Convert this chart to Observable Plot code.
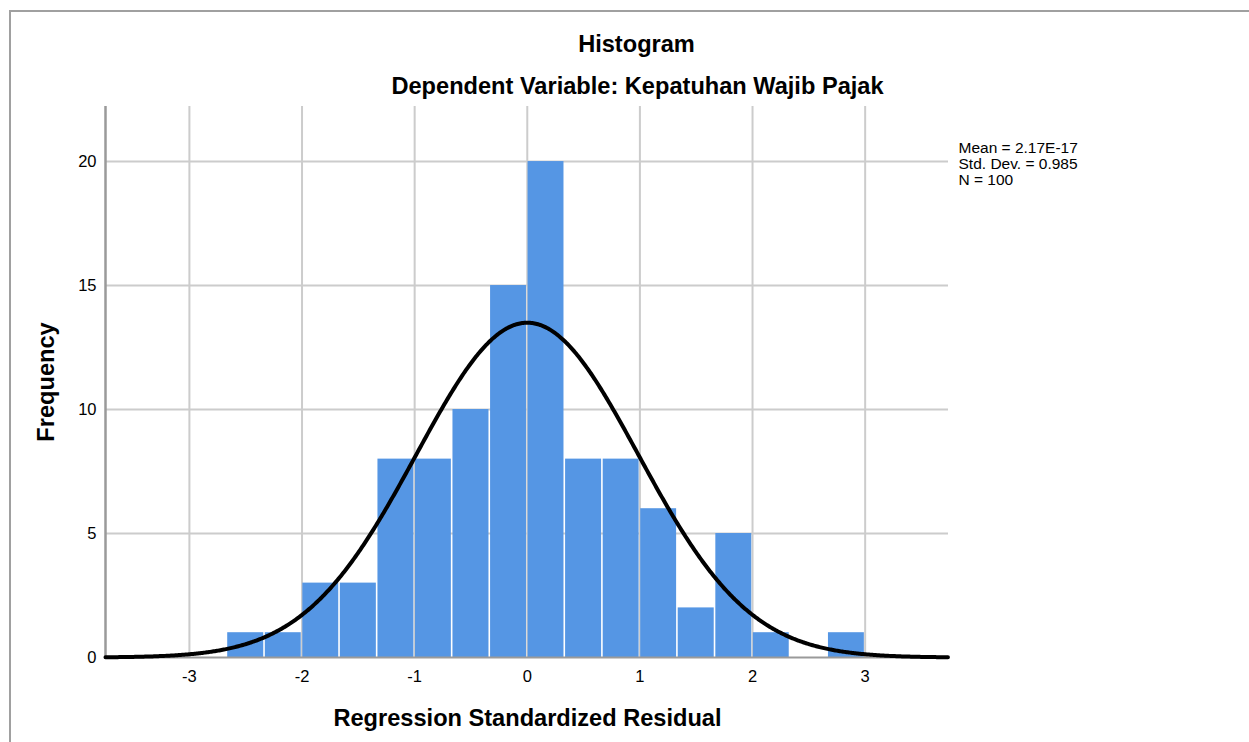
<!DOCTYPE html>
<html>
<head>
<meta charset="utf-8">
<script src="https://cdn.jsdelivr.net/npm/d3@7"></script>
<script src="https://cdn.jsdelivr.net/npm/@observablehq/plot@0.6"></script>
<style>
  html, body { margin: 0; padding: 0; background: #fff; }
  #wrap { position: relative; width: 1249px; height: 742px; overflow: hidden; }
  #border { position: absolute; left: 9px; top: 10px; width: 1260px; height: 760px;
            border-top: 2px solid #a0a0a0; border-left: 2px solid #a0a0a0; box-sizing: border-box; }
  #chart { position: absolute; left: 0; top: 0; }
</style>
</head>
<body>
<div id="wrap"><div id="border"></div><div id="chart"></div></div>
<script>
// ---- data ----
const binLower = [-2.667, -2.333, -2.0, -1.667, -1.333, -1.0, -0.667, -0.333, 0.0, 0.333, 0.667, 1.0, 1.333, 1.667, 2.0, 2.333, 2.667];
const binUpper = [-2.333, -2.0, -1.667, -1.333, -1.0, -0.667, -0.333, 0.0, 0.333, 0.667, 1.0, 1.333, 1.667, 2.0, 2.333, 2.667, 3.0];
const counts   = [1, 1, 3, 3, 8, 8, 10, 15, 20, 8, 8, 6, 2, 5, 1, 0, 1];
const xTicks = [-3, -2, -1, 0, 1, 2, 3];
const yTicks = [0, 5, 10, 15, 20];
const statMean = 2.17e-17;
const statSD = 0.985;
const statN = 100;
const statLabels = ["Mean = 2.17E-17", "Std. Dev. = 0.985", "N = 100"];
const titleText = "Histogram";
const subtitleText = "Dependent Variable: Kepatuhan Wajib Pajak";
const xLabel = "Regression Standardized Residual";
const yLabel = "Frequency";

const xDomain = [-3.745, 3.74];
const yDomain = [0, 22.22];

const bars = counts.map((c, i) => ({x1: binLower[i], x2: binUpper[i], y: c}));
const binW = binUpper[0] - binLower[0];
// fitted normal curve from the reported mean / std. dev. / N
const curve = d3.range(xDomain[0], xDomain[1] + 0.005, 0.01).map(x => ({
  x, y: statN * (1/3) * Math.exp(-0.5 * ((x - statMean) / statSD) ** 2) / (statSD * Math.sqrt(2 * Math.PI))
}));

const font = "'Liberation Sans', Arial, Helvetica, sans-serif";

const plot = Plot.plot({
  width: 1249,
  height: 742,
  marginLeft: 105,
  marginRight: 301,
  marginTop: 106,
  marginBottom: 85,
  style: {fontFamily: font, color: "#000", background: "transparent", overflow: "visible"},
  x: {domain: xDomain},
  y: {domain: yDomain},
  marks: [
    Plot.ruleX(xTicks, {stroke: "#cccccc", strokeWidth: 2}),
    Plot.ruleY(yTicks.filter(d => d > 0), {stroke: "#cccccc", strokeWidth: 2}),
    Plot.rectY(bars, {x1: "x1", x2: "x2", y: "y", fill: "#5596e4", insetLeft: 0.8, insetRight: 0.8}),
    Plot.ruleX([xDomain[0]], {stroke: "#9a9a9a", strokeWidth: 2.5}),
    Plot.ruleY([0], {stroke: "#9a9a9a", strokeWidth: 2}),
    Plot.line(curve, {x: "x", y: "y", stroke: "#000", strokeWidth: 4}),
    Plot.axisX({ticks: xTicks, tickSize: 0, tickPadding: 13, fontSize: 16.5, label: null, tickFormat: d => String(d).replace("−", "-")}),
    Plot.axisY({ticks: yTicks, tickSize: 0, tickPadding: 9, fontSize: 16.5, label: null}),
    Plot.text([titleText], {frameAnchor: "top", dx: 109.5, dy: -71.5, lineAnchor: "top", fontSize: 23.6, fontWeight: "bold"}),
    Plot.text([subtitleText], {frameAnchor: "top", dx: 110.5, dy: -29.5, lineAnchor: "top", fontSize: 23.6, fontWeight: "bold"}),
    Plot.text([xLabel], {frameAnchor: "bottom", dx: 0.5, dy: 51.5, lineAnchor: "top", fontSize: 23.6, fontWeight: "bold"}),
    Plot.text([yLabel], {frameAnchor: "left", dx: -59, dy: 0, rotate: -90, lineAnchor: "middle", textAnchor: "middle", fontSize: 23.6, fontWeight: "bold"}),
    Plot.text([statLabels.join("\n")], {frameAnchor: "top-right", dx: 10, dy: 34.5, lineAnchor: "top", textAnchor: "start", fontSize: 15.5, lineHeight: 1.05})
  ]
});
document.getElementById("chart").appendChild(plot);
</script>
</body>
</html>
